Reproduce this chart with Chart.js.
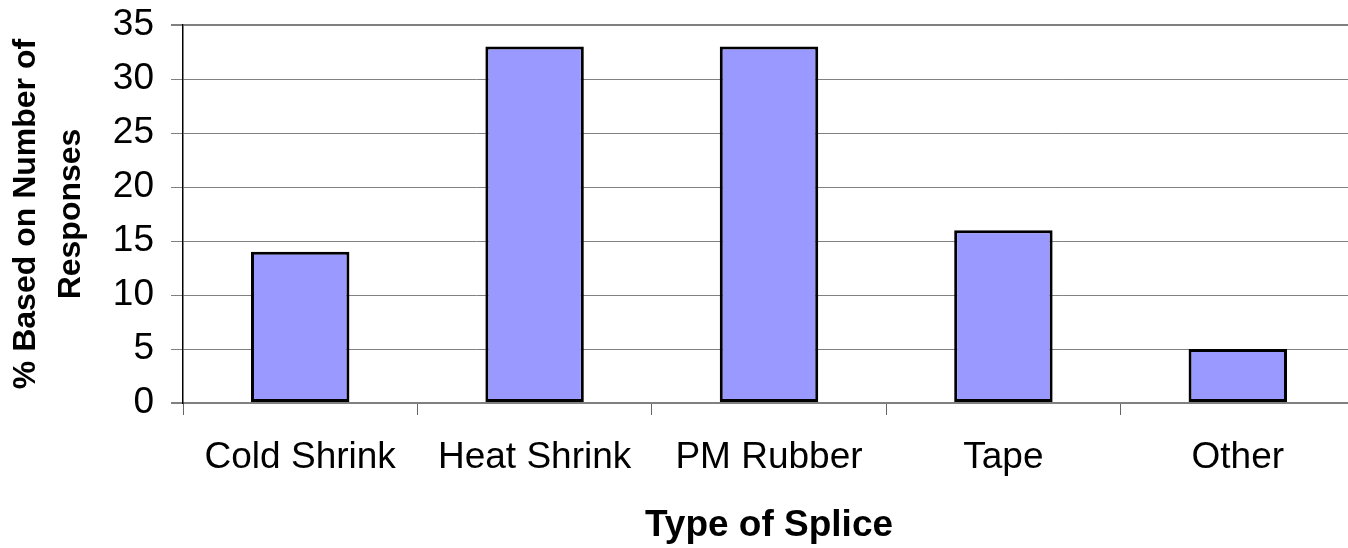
<!DOCTYPE html>
<html>
<head>
<meta charset="utf-8">
<script src="https://cdn.jsdelivr.net/npm/chart.js@4.4.1/dist/chart.umd.min.js"></script>
<style>
  html, body { margin: 0; padding: 0; background: #fff; overflow: hidden; }
  #wrap { width: 1360px; height: 548px; }
</style>
</head>
<body>
<div id="wrap"><canvas id="chart" width="1360" height="548"></canvas></div>
<script>
  const categories = ['Cold Shrink', 'Heat Shrink', 'PM Rubber', 'Tape', 'Other'];
  const responsePct = [14, 33, 33, 16, 5];
  const yTicks = [0, 5, 10, 15, 20, 25, 30, 35];

  const fontFamily = '"Liberation Sans", Arial, Helvetica, sans-serif';

  new Chart(document.getElementById('chart'), {
    type: 'bar',
    data: {
      labels: categories,
      datasets: [
        {
          data: responsePct,
          backgroundColor: '#9999ff',
          borderColor: '#000000',
          borderWidth: 3,
          borderSkipped: false,
          barPercentage: 0.42,
          categoryPercentage: 1,
        },
      ],
    },
    options: {
      responsive: false,
      animation: false,
      layout: { padding: { top: 25, right: 5, left: 0, bottom: 0 } },
      plugins: {
        legend: { display: false },
        tooltip: { enabled: false },
      },
      scales: {
        x: {
          afterFit: (scale) => { scale.height = 145; },
          grid: {
            offset: true,
            drawOnChartArea: false,
            tickLength: 12,
            color: '#666666',
            lineWidth: 1,
          },
          border: { display: true, color: '#808080', width: 2 },
          ticks: {
            color: '#000',
            padding: 21,
            font: { family: fontFamily, size: 37 },
            maxRotation: 0,
          },
          title: {
            display: true,
            text: 'Type of Splice',
            color: '#000',
            font: { family: fontFamily, size: 37, weight: 'bold', lineHeight: 1.2 },
            padding: { top: 0, bottom: 0 },
          },
        },
        y: {
          min: 0,
          max: 35,
          afterFit: (scale) => { scale.width = 183; },
          afterBuildTicks: (scale) => {
            scale.ticks = yTicks.map((v) => ({ value: v }));
          },
          grid: {
            tickLength: 12,
            color: '#808080',
            lineWidth: (ctx) => (ctx.tick && (ctx.tick.value === 35 || ctx.tick.value === 0) ? 2 : 1),
          },
          border: { display: true, color: '#000000', width: 1.5 },
          ticks: {
            color: '#000',
            padding: 17,
            font: { family: fontFamily, size: 37, lineHeight: 0.4 },
          },
          title: {
            display: true,
            text: ['% Based on Number of', 'Responses'],
            color: '#000',
            font: { family: fontFamily, size: 32, weight: 'bold', lineHeight: 1.4 },
            padding: { top: 4, bottom: 0 },
          },
        },
      },
    },
  });
</script>
</body>
</html>
